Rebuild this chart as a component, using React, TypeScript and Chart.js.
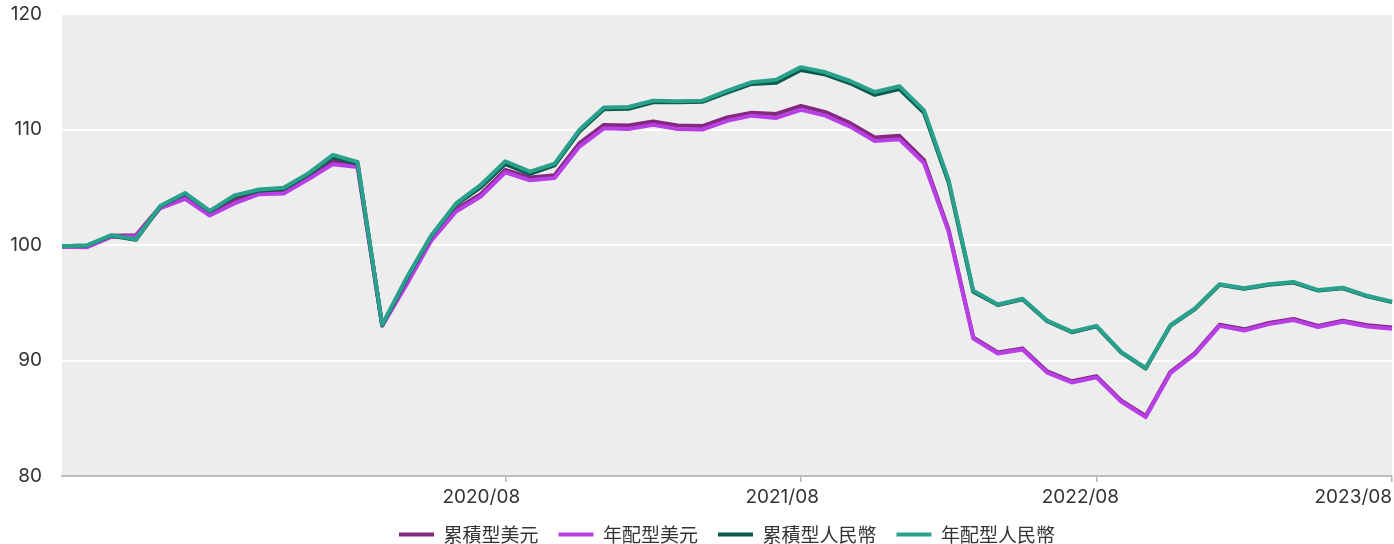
import React, { useEffect, useRef } from "react";
import { Chart, registerables } from "chart.js";

Chart.register(...registerables);

const months: string[] = [
  "2019/02", "2019/03", "2019/04", "2019/05", "2019/06", "2019/07", "2019/08", "2019/09", "2019/10", "2019/11", "2019/12",
  "2020/01", "2020/02", "2020/03", "2020/04", "2020/05", "2020/06", "2020/07", "2020/08", "2020/09", "2020/10", "2020/11", "2020/12",
  "2021/01", "2021/02", "2021/03", "2021/04", "2021/05", "2021/06", "2021/07", "2021/08", "2021/09", "2021/10", "2021/11", "2021/12",
  "2022/01", "2022/02", "2022/03", "2022/04", "2022/05", "2022/06", "2022/07", "2022/08", "2022/09", "2022/10", "2022/11", "2022/12",
  "2023/01", "2023/02", "2023/03", "2023/04", "2023/05", "2023/06", "2023/07", "2023/08",
];

const shownTicks: string[] = ["2020/08", "2021/08", "2022/08", "2023/08"];

const accUsd: number[] = [
  99.9, 99.85, 100.8, 100.85, 103.35, 104.2, 102.75, 103.85, 104.6, 104.65, 105.9,
  107.3, 107.0, 93.05, 96.8, 100.6, 103.1, 104.4, 106.5, 105.85, 106.05, 108.8, 110.4,
  110.35, 110.7, 110.35, 110.3, 111.05, 111.45, 111.35, 112.05, 111.5, 110.55, 109.3, 109.45,
  107.35, 101.3, 92.0, 90.7, 91.05, 89.05, 88.2, 88.65, 86.55, 85.2, 89.0, 90.65,
  93.1, 92.7, 93.25, 93.6, 93.0, 93.45, 93.05, 92.85,
];

const distUsd: number[] = [
  99.85, 99.8, 100.7, 100.75, 103.2, 104.0, 102.55, 103.6, 104.4, 104.45, 105.7,
  107.0, 106.75, 93.0, 96.6, 100.4, 102.9, 104.2, 106.3, 105.6, 105.8, 108.5, 110.1,
  110.05, 110.4, 110.05, 110.0, 110.75, 111.2, 111.0, 111.7, 111.2, 110.25, 109.0, 109.15,
  107.1, 101.15, 91.9, 90.6, 90.95, 88.95, 88.1, 88.55, 86.45, 85.1, 88.9, 90.55,
  93.0, 92.6, 93.15, 93.5, 92.9, 93.35, 92.95, 92.75,
];

const accRmb: number[] = [
  99.9, 99.95, 100.8, 100.45, 103.35, 104.45, 102.9, 104.2, 104.7, 104.85, 106.1,
  107.6, 107.05, 93.05, 97.1, 100.8, 103.5, 105.0, 107.0, 106.15, 106.9, 109.8, 111.75,
  111.8, 112.35, 112.35, 112.4, 113.2, 113.95, 114.05, 115.15, 114.75, 114.0, 113.0, 113.5,
  111.45, 105.4, 95.95, 94.8, 95.3, 93.4, 92.45, 92.95, 90.7, 89.3, 93.0, 94.45,
  96.55, 96.2, 96.55, 96.75, 96.05, 96.25, 95.55, 95.05,
];

const distRmb: number[] = [
  99.9, 99.95, 100.85, 100.5, 103.4, 104.5, 102.95, 104.3, 104.8, 104.95, 106.2,
  107.8, 107.2, 93.1, 97.2, 100.85, 103.6, 105.2, 107.25, 106.35, 107.05, 109.95, 111.9,
  111.95, 112.5, 112.45, 112.5, 113.35, 114.1, 114.3, 115.4, 114.95, 114.2, 113.25, 113.75,
  111.65, 105.6, 96.05, 94.85, 95.35, 93.45, 92.5, 93.0, 90.75, 89.35, 93.05, 94.5,
  96.6, 96.25, 96.6, 96.8, 96.1, 96.3, 95.6, 95.1,
];

const seriesNames: string[] = ["累積型美元", "年配型美元", "累積型人民幣", "年配型人民幣"];
const seriesColors: string[] = ["#85297f", "#b83fe6", "#0c5a4b", "#2aa18c"];
const yTicks: number[] = [80, 90, 100, 110, 120];

// trailing spaces nudge the centred tick labels slightly left, as in the reference
const tickLabelPad: Record<string, string> = {
  "2020/08": "         ",
  "2021/08": "       ",
  "2022/08": "      ",
  "2023/08": "",
};

const bgPlugin = {
  id: "plotBg",
  beforeDraw(chart: any) {
    const { ctx, chartArea } = chart;
    if (!chartArea) return;
    ctx.save();
    ctx.fillStyle = "#ededed";
    ctx.fillRect(chartArea.left, chartArea.top, chartArea.right - chartArea.left, chartArea.bottom - chartArea.top);
    ctx.restore();
  },
};

export default function App() {
  const canvasRef = useRef<HTMLCanvasElement | null>(null);

  useEffect(() => {
    document.body.style.margin = "0";
    const canvas = canvasRef.current;
    if (!canvas) return;
    const fontFamily = "Inter, 'Noto Sans CJK TC', sans-serif";
    const legendFamily = "'Noto Sans CJK TC', Inter, sans-serif";
    const allSeries = [accUsd, distUsd, accRmb, distRmb];
    const chart = new Chart(canvas, {
      type: "line",
      data: {
        labels: months,
        datasets: allSeries.map((values, i) => ({
          label: seriesNames[i],
          data: values,
          borderColor: seriesColors[i],
          backgroundColor: seriesColors[i],
          borderWidth: 4,
          pointRadius: 0,
          pointHoverRadius: 0,
          tension: 0,
          fill: false,
          borderJoinStyle: "round" as const,
          order: 4 - i,
        })),
      },
      options: {
        animation: false,
        responsive: true,
        maintainAspectRatio: false,
        layout: { padding: { top: 14, right: 2, left: 0, bottom: -10 } },
        plugins: {
          tooltip: { enabled: false },
          legend: {
            position: "bottom",
            fullSize: false,
            labels: {
              font: { family: legendFamily, size: 19 },
              color: "#333333",
              boxWidth: 35,
              boxHeight: 4,
              padding: 20,
              generateLabels: (ch: any) =>
                ch.data.datasets.map((ds: any, i: number) => ({
                  text: ds.label,
                  fillStyle: ds.borderColor,
                  strokeStyle: ds.borderColor,
                  lineWidth: 0,
                  hidden: false,
                  datasetIndex: i,
                  fontColor: "#333333",
                })),
            },
          },
        },
        scales: {
          x: {
            type: "category",
            offset: false,
            grid: {
              display: true,
              drawOnChartArea: false,
              drawTicks: true,
              tickLength: 6,
              color: (ctx: any) =>
                shownTicks.includes(months[ctx.index]) ? "#b5b5b5" : "rgba(0,0,0,0)",
              lineWidth: 1.5,
            },
            border: { display: true, color: "#bdbdbd", width: 2 },
            ticks: {
              autoSkip: false,
              maxRotation: 0,
              minRotation: 0,
              align: "inner",
              padding: 4,
              color: "#333333",
              font: { family: fontFamily, size: 19 },
              callback: (_v: any, index: number) =>
                shownTicks.includes(months[index])
                  ? months[index] + (tickLabelPad[months[index]] || "")
                  : "",
            },
            afterFit: (scale: any) => {
              scale.height = 29;
              scale.paddingLeft = 0;
              scale.paddingRight = 0;
            },
          },
          y: {
            min: yTicks[0],
            max: yTicks[yTicks.length - 1],
            afterBuildTicks: (scale: any) => {
              scale.ticks = yTicks.map((v) => ({ value: v }));
            },
            grid: {
              color: "#ffffff",
              lineWidth: 2,
              drawTicks: false,
            },
            border: { display: false },
            ticks: {
              padding: 20,
              color: "#333333",
              font: { family: fontFamily, size: 19 },
            },
            afterFit: (scale: any) => {
              scale.width = 62;
              scale.paddingTop = 0;
              scale.paddingBottom = 0;
            },
          },
        },
      },
      plugins: [bgPlugin],
    });
    return () => chart.destroy();
  }, []);

  return (
    <div style={{ width: 1394, height: 544, position: "relative" }}>
      <canvas ref={canvasRef} />
    </div>
  );
}
